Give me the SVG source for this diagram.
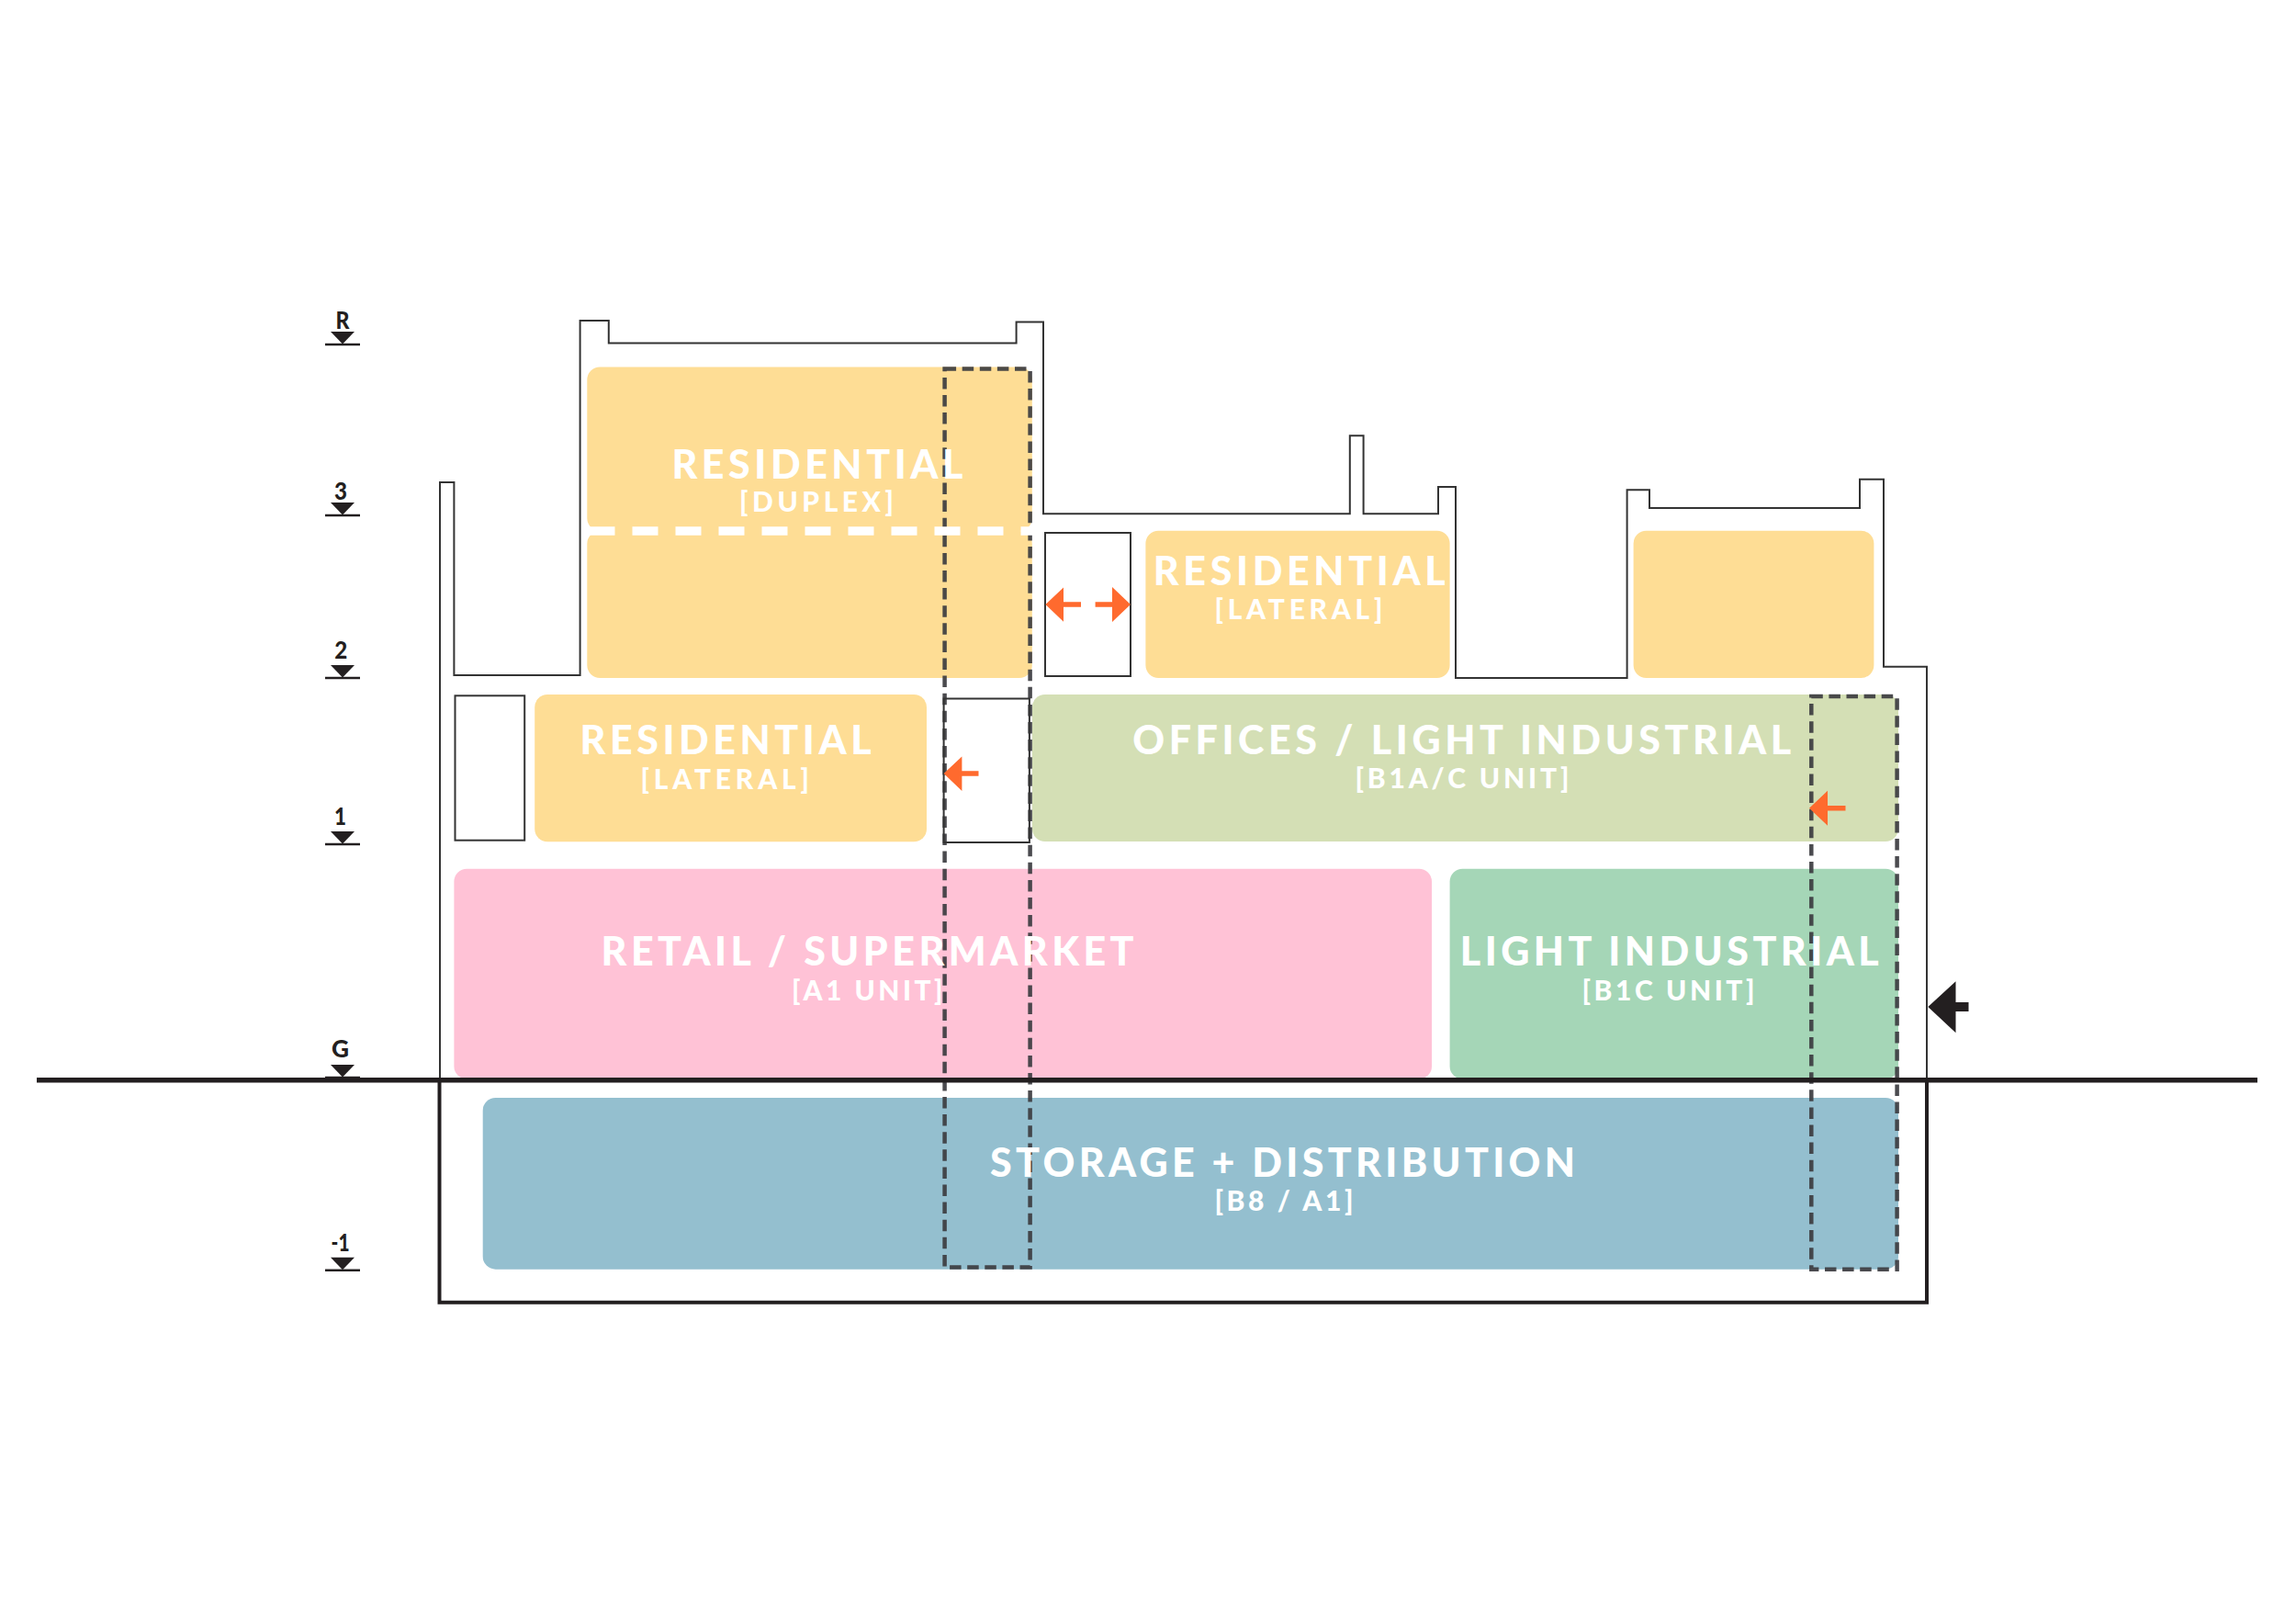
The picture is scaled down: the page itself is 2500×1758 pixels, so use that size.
<svg xmlns="http://www.w3.org/2000/svg" width="2500" height="1758" viewBox="0 0 2500 1758">
<style>
.o{fill:#FEDD95}.g{fill:#D4DFB5}.p{fill:#FFC2D6}.l{fill:#A5D6B7}.b{fill:#94BFCF}
.t{font-family:Lato,"Open Sans",sans-serif;font-weight:900;fill:#fff}
.h{font-size:43px}.s{font-size:30px}
.w{fill:#fff;stroke:#333;stroke-width:2}
.d{fill:none;stroke:#3c3c40;stroke-opacity:.92;stroke-width:4.5;stroke-dasharray:12.5 6.6}
.ar{fill:#FF6A2E}
.lv{font-family:Lato,"Open Sans",sans-serif;font-weight:900;font-size:27px;fill:#231F20}
.ln{stroke:#231F20;stroke-width:2.5}
</style>
<defs>
<g id="lvl"><path d="M-13-13.5H13L0 0Z" fill="#231F20"/><path d="M-19 0.5H19" class="ln"/></g>
</defs>
<g id="outline">
<path d="M479 1176V525H494.4V735H631.6V349H662.8V373.4H1106.6V350.5H1136V559.3H1469.8V474.3H1484.6V559.3H1566V530H1585V738H1771.6V533.3H1796V553H2025V521.7H2051V725.7H2098V1176" fill="none" stroke="#333" stroke-width="2"/>
<path d="M478.5 1176V1417.7H2098V1176" fill="none" stroke="#231F20" stroke-width="4"/>
</g>
<g id="residential-duplex"><rect class="o" x="639.3" y="399.5" width="484.5" height="178.5" rx="14"/><rect class="o" x="639.3" y="578" width="484.5" height="160" rx="14"/></g>
<g id="residential-lateral-left"><rect class="o" x="582.2" y="756" width="426.8" height="160.3" rx="14"/></g>
<g id="residential-lateral-right"><rect class="o" x="1247.4" y="577.7" width="331.2" height="160.3" rx="14"/></g>
<g id="residential-east"><rect class="o" x="1778.6" y="577.7" width="261.8" height="160.3" rx="14"/></g>
<g id="offices"><rect class="g" x="1123.9" y="756" width="943.1" height="160" rx="14"/></g>
<g id="retail"><rect class="p" x="494.4" y="945.7" width="1064.6" height="229" rx="14"/></g>
<g id="light-industrial"><rect class="l" x="1578.6" y="945.7" width="488.4" height="229" rx="14"/></g>
<g id="storage"><rect class="b" x="525.7" y="1195" width="1541.3" height="186.7" rx="14"/></g>
<g id="connectors">
<rect class="d" x="1028.6" y="401.5" width="93" height="978"/>
<rect class="d" x="1972.3" y="758" width="93.3" height="623.7"/>
<path d="M641.5 578H1124" fill="none" stroke="#fff" stroke-width="9.5" stroke-dasharray="28 19"/>
<path d="M40 1175.8H2458" fill="none" stroke="#231F20" stroke-width="5.5"/>
</g>
<g id="core-west"><rect class="w" x="495.5" y="757.3" width="75.7" height="157.4"/></g>
<g id="core-centre"><rect fill="#fff" x="1031" y="762" width="88" height="154"/><rect fill="none" stroke="#333" stroke-width="2" x="1027.6" y="760.5" width="93.3" height="156.5"/></g>
<g id="core-north"><rect class="w" x="1138" y="580" width="93" height="156"/></g>
<g id="labels">
<text class="t h" x="731.4" y="520.5" textLength="317">RESIDENTIAL</text>
<text class="t s" x="805" y="557.2" textLength="168">[DUPLEX]</text>
<text class="t h" x="631.6" y="821.4" textLength="317">RESIDENTIAL</text>
<text class="t s" x="697.4" y="858.6" textLength="183.6">[LATERAL]</text>
<text class="t h" x="1255.8" y="637.3" textLength="318">RESIDENTIAL</text>
<text class="t s" x="1322.5" y="674" textLength="183">[LATERAL]</text>
<text class="t h" x="1233.3" y="820.7" textLength="717">OFFICES / LIGHT INDUSTRIAL</text>
<text class="t s" x="1475.4" y="858.3" textLength="233">[B1A/C UNIT]</text>
<text class="t h" x="654.6" y="1051.3" textLength="580">RETAIL / SUPERMARKET</text>
<text class="t s" x="862" y="1088.7" textLength="164.5">[A1 UNIT]</text>
<text class="t h" x="1589.8" y="1051.3" textLength="456">LIGHT INDUSTRIAL</text>
<text class="t s" x="1722.5" y="1088.7" textLength="188">[B1C UNIT]</text>
<text class="t h" x="1078" y="1281" textLength="637">STORAGE + DISTRIBUTION</text>
<text class="t s" x="1322.5" y="1318.3" textLength="151">[B8 / A1]</text>
</g>
<g id="arrows">
<path class="ar" d="M1138.4 658L1158 639.5V655.2H1177V660.8H1158V676.7Z"/>
<path class="ar" d="M1231 658L1211 639V655.2H1192.6V660.8H1211V677Z"/>
<path class="ar" d="M1027.6 842L1047.4 823.4V839.2H1065.5V844.8H1047.4V861Z"/>
<path class="ar" d="M1970 879.7L1990 860.7V877H2009.5V882.5H1990V898.7Z"/>
<path d="M2099.3 1096L2129.5 1068.3V1091H2143.5V1101H2129.5V1124.3Z" fill="#231F20"/>
</g>
<g id="levels">
<text class="lv" x="365.5" y="358" textLength="15" lengthAdjust="spacingAndGlyphs">R</text><use href="#lvl" x="373" y="374.6"/>
<text class="lv" x="364" y="544" textLength="14" lengthAdjust="spacingAndGlyphs">3</text><use href="#lvl" x="373" y="560.4"/>
<text class="lv" x="364.3" y="716.6" textLength="14" lengthAdjust="spacingAndGlyphs">2</text><use href="#lvl" x="373" y="737.5"/>
<text class="lv" x="364" y="898" textLength="13" lengthAdjust="spacingAndGlyphs">1</text><use href="#lvl" x="373" y="918.6"/>
<text class="lv" x="361" y="1151" textLength="19" lengthAdjust="spacingAndGlyphs">G</text><use href="#lvl" x="373" y="1172.5"/>
<text class="lv" x="360.6" y="1361.7" textLength="20" lengthAdjust="spacingAndGlyphs">-1</text><use href="#lvl" x="373" y="1382.3"/>
</g>
</svg>
